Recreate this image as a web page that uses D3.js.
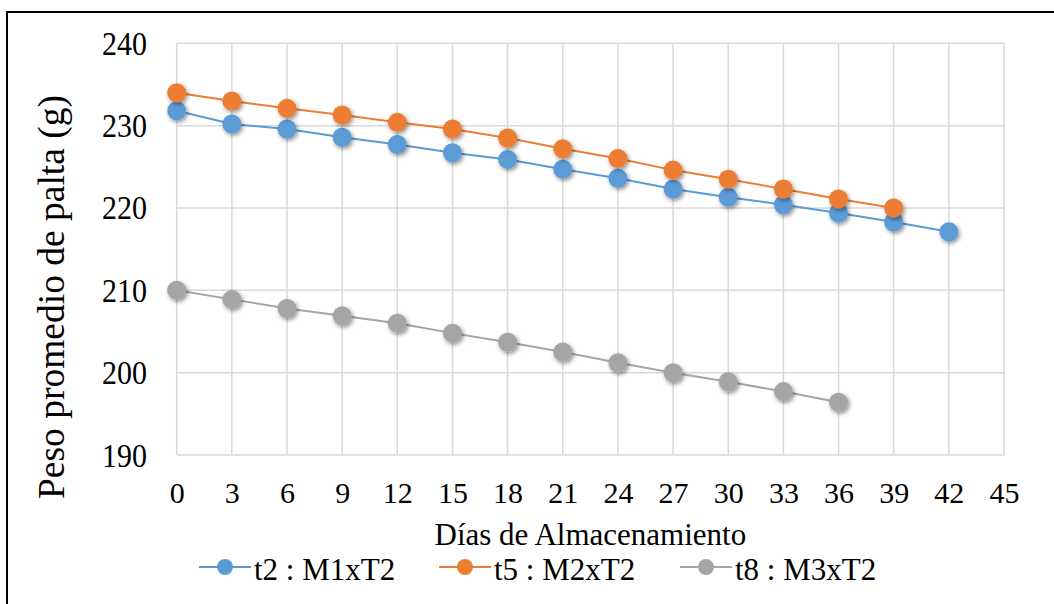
<!DOCTYPE html>
<html>
<head>
<meta charset="utf-8">
<script src="https://cdn.jsdelivr.net/npm/d3@7/dist/d3.min.js"></script>
<style>
html,body{margin:0;padding:0;background:#fff;}
svg{display:block;}
svg text{font-family:"Liberation Serif","Times New Roman",serif !important;fill:#000;}
</style>
</head>
<body>
<svg id="chart" width="1054" height="604" font-family="Liberation Serif, serif"></svg>
<script>
const days = [0,3,6,9,12,15,18,21,24,27,30,33,36,39,42];
const t2 = [231.8,230.2,229.6,228.6,227.7,226.7,225.9,224.7,223.6,222.3,221.3,220.4,219.4,218.3,217.1];
const t5 = [234.0,233.0,232.1,231.3,230.4,229.6,228.5,227.2,226.0,224.6,223.5,222.3,221.1,220.0];
const t8 = [210.0,208.9,207.8,206.9,206.0,204.8,203.7,202.5,201.2,200.0,198.9,197.7,196.4];
const seriesNames = ["t2 : M1xT2","t5 : M2xT2","t8 : M3xT2"];
const seriesColors = ["#5B9BD5","#ED7D31","#A5A5A5"];
const xTicks = [0,3,6,9,12,15,18,21,24,27,30,33,36,39,42,45];
const yTicks = [190,200,210,220,230,240];
const xTitle = "Días de Almacenamiento";
const yTitle = "Peso promedio de palta (g)";

const FONT = "Liberation Serif";
const svg = d3.select("#chart");
const defs = svg.append("defs");
const f = defs.append("filter").attr("id","shadow").attr("x","-50%").attr("y","-50%").attr("width","200%").attr("height","200%");
f.append("feDropShadow").attr("dx",1.5).attr("dy",2).attr("stdDeviation",2).attr("flood-color","#000").attr("flood-opacity",0.45);

// outer border
svg.append("rect").attr("x",7).attr("y",12).attr("width",1060).attr("height",610)
  .attr("fill","none").attr("stroke","#000").attr("stroke-width",2);

const x = d3.scaleLinear().domain([0,45]).range([176.7,1004]);
const y = d3.scaleLinear().domain([190,240]).range([455,43.3]);

// grid
const g = svg.append("g");
g.selectAll("line.v").data(xTicks).join("line")
  .attr("x1",d=>x(d)).attr("x2",d=>x(d)).attr("y1",y(240)).attr("y2",y(190))
  .attr("stroke","#d9d9d9").attr("stroke-width",1.5);
g.selectAll("line.h").data(yTicks).join("line")
  .attr("y1",d=>y(d)).attr("y2",d=>y(d)).attr("x1",x(0)).attr("x2",x(45))
  .attr("stroke","#d9d9d9").attr("stroke-width",1.5);

// axes labels via d3 axes
const xAxis = d3.axisBottom(x).tickValues(xTicks).tickSize(0).tickPadding(0);
const xg = svg.append("g").attr("transform",`translate(0,${y(190)})`).call(xAxis)
  .attr("font-family",FONT).attr("font-size",30);
xg.select(".domain").remove();
xg.selectAll("text").attr("dy",null).attr("y",48).attr("font-family",FONT).attr("font-size",30).attr("fill","#000");

const yAxis = d3.axisLeft(y).tickValues(yTicks).tickSize(0).tickPadding(0);
const yg = svg.append("g").attr("transform",`translate(147,0)`).call(yAxis)
  .attr("font-family",FONT).attr("font-size",30);
yg.select(".domain").remove();
yg.selectAll("text").attr("dy",null).attr("x",0).attr("y",0)
  .attr("font-family",FONT).attr("font-size",30).attr("fill","#000")
  .attr("transform","translate(0,11) scale(1,1.12)");

// titles
svg.append("text").attr("x",(x(0)+x(45))/2).attr("y",545).attr("text-anchor","middle")
  .attr("font-family",FONT).attr("font-size",31).text(xTitle);
svg.append("text").attr("transform","translate(64,297) rotate(-90)").attr("text-anchor","middle")
  .attr("font-family",FONT).attr("font-size",37.5).text(yTitle);

// series
const allSeries = [t2,t5,t8];
const line = d3.line().x(d=>x(d[0])).y(d=>y(d[1]));
allSeries.forEach((vals,i)=>{
  const pts = vals.map((v,j)=>[days[j],v]);
  svg.append("path").datum(pts).attr("d",line).attr("fill","none")
    .attr("stroke",seriesColors[i]).attr("stroke-width",2);
});
allSeries.forEach((vals,i)=>{
  const pts = vals.map((v,j)=>[days[j],v]);
  svg.append("g").attr("filter","url(#shadow)").selectAll("circle").data(pts).join("circle")
    .attr("cx",d=>x(d[0])).attr("cy",d=>y(d[1])).attr("r",9.5)
    .attr("fill",seriesColors[i]);
});

// legend
const legX = [199,439,680];
const leg = svg.append("g");
seriesNames.forEach((n,i)=>{
  const lx = legX[i], ly = 567;
  leg.append("line").attr("x1",lx).attr("x2",lx+52).attr("y1",ly).attr("y2",ly)
    .attr("stroke",seriesColors[i]).attr("stroke-width",2);
  leg.append("circle").attr("cx",lx+26).attr("cy",ly).attr("r",8).attr("fill",seriesColors[i]);
  leg.append("text").attr("x",lx+55).attr("y",580).attr("font-family",FONT).attr("font-size",31).text(n);
});
</script>
</body>
</html>
